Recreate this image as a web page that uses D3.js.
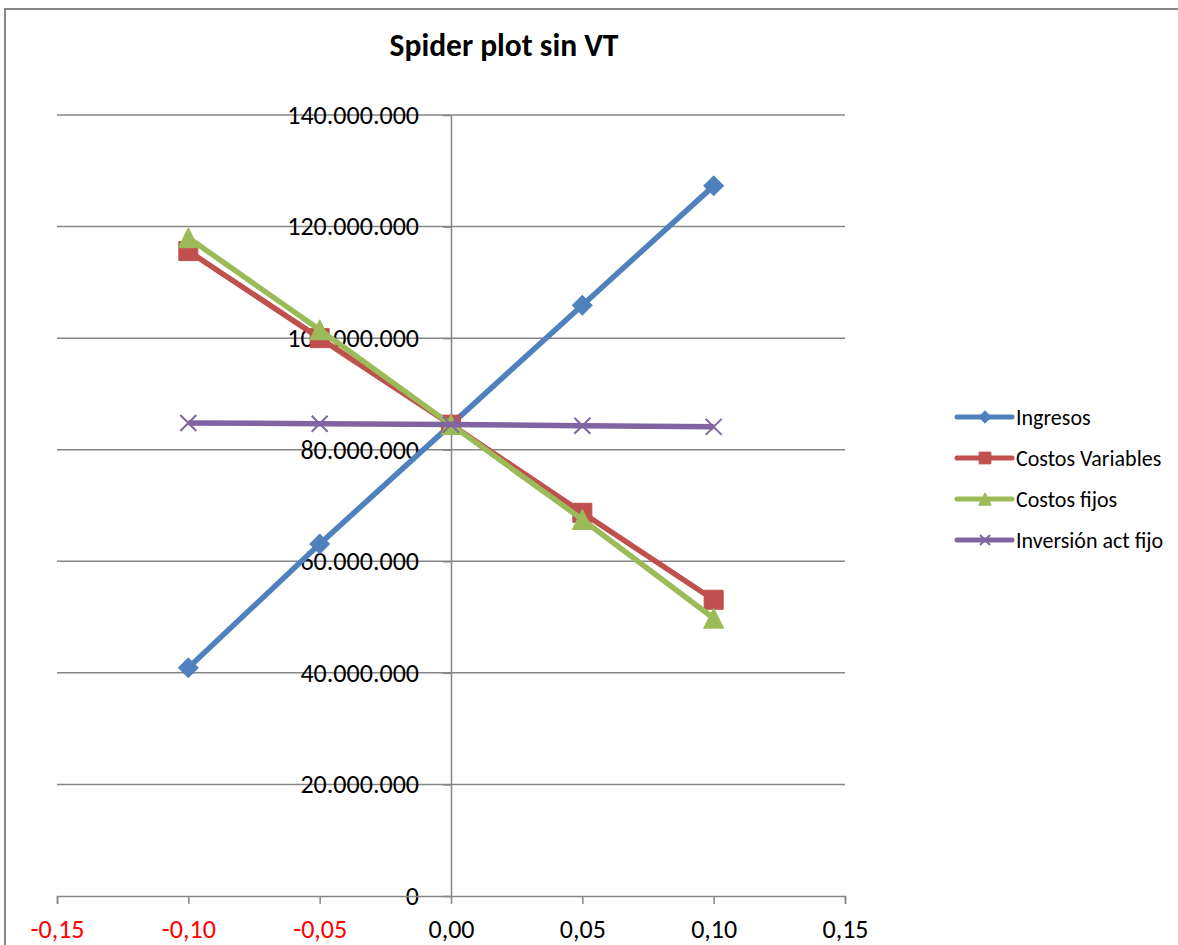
<!DOCTYPE html>
<html>
<head>
<meta charset="utf-8">
<script src="https://cdn.jsdelivr.net/npm/d3@7"></script>
<style>
  html, body { margin: 0; padding: 0; background: #fff; }
  svg { display: block; }
  text { font-family: Carlito, "Liberation Sans", Arial, sans-serif; }
</style>
</head>
<body>
<svg id="chart" width="1178" height="945"></svg>
<script>
// ---- Data ----
const xValues = [-0.10, -0.05, 0.00, 0.05, 0.10];
const seriesNames = ["Ingresos", "Costos Variables", "Costos fijos", "Inversión act fijo"];
const ingresos   = [40.9e6, 63.1e6, 84.5e6, 105.9e6, 127.3e6];
const costosVar  = [115.6e6, 100.0e6, 84.5e6, 68.7e6, 53.1e6];
const costosFijos= [118.0e6, 101.5e6, 84.5e6, 67.5e6, 49.8e6];
const inversion  = [84.8e6, 84.65e6, 84.5e6, 84.3e6, 84.1e6];
const xTicks = [-0.15, -0.10, -0.05, 0.00, 0.05, 0.10, 0.15];
const yTicks = [0, 20e6, 40e6, 60e6, 80e6, 100e6, 120e6, 140e6];
const titleText = "Spider plot sin VT";

const seriesValues = [ingresos, costosVar, costosFijos, inversion];
const colors = ["#4f81bd", "#c0504d", "#9bbb59", "#8064a2"];
const markers = ["diamond", "square", "triangle", "x"];

const svg = d3.select("#chart");

// outer border
svg.append("rect").attr("x", 5).attr("y", 9).attr("width", 1200).attr("height", 1000)
  .attr("fill", "none").attr("stroke", "#868686").attr("stroke-width", 2);

const x = d3.scaleLinear().domain([-0.15, 0.15]).range([57, 845]);
const y = d3.scaleLinear().domain([0, 140e6]).range([896, 115]);

const loc = d3.formatLocale({decimal: ",", thousands: ".", grouping: [3], currency: ["", ""], minus: "-"});
const fy = loc.format(",.0f");
const fx = loc.format(".2f");

// title
svg.append("text").attr("x", 504).attr("y", 56).attr("text-anchor", "middle")
  .style("font-size", "31.5px").style("font-weight", "bold").attr("fill", "#000").text(titleText);

// gridlines
svg.append("g").selectAll("line").data(yTicks.filter(d => d > 0)).join("line")
  .attr("x1", x(-0.15)).attr("x2", x(0.15)).attr("y1", d => y(d)).attr("y2", d => y(d))
  .attr("stroke", "#868686").attr("stroke-width", 1.5);

// y axis
const yAxis = svg.append("g").attr("transform", `translate(${x(0)},0)`)
  .call(d3.axisLeft(y).tickValues(yTicks).tickFormat(fy).tickSize(8).tickSizeOuter(0).tickPadding(24));
yAxis.selectAll("path, line").attr("stroke", "#868686").attr("stroke-width", 1.5);
yAxis.selectAll("text").style("font-size", "26px").attr("fill", "#000").attr("font-family", null);

// x axis
const xAxis = svg.append("g").attr("transform", `translate(0,${y(0)})`)
  .call(d3.axisBottom(x).tickValues(xTicks).tickFormat(fx).tickSize(8).tickSizeOuter(8).tickPadding(16));
xAxis.selectAll("path, line").attr("stroke", "#868686").attr("stroke-width", 1.5);
xAxis.selectAll("text").style("font-size", "26px").attr("font-family", null)
  .attr("fill", d => d < 0 ? "#ff0000" : "#000");

function markerPath(type, s) {
  if (type === "diamond") return `M0,${-s}L${s},0L0,${s}L${-s},0Z`;
  if (type === "square") return `M${-s},${-s}H${s}V${s}H${-s}Z`;
  if (type === "triangle") return `M0,${-s}L${s},${s}H${-s}Z`;
  return `M${-s},${-s}L${s},${s}M${-s},${s}L${s},${-s}`;
}
function drawMarker(g, type, color, s) {
  const p = g.append("path").attr("d", markerPath(type, s));
  if (type === "x") p.attr("fill", "none").attr("stroke", color).attr("stroke-width", 2);
  else p.attr("fill", color).attr("stroke", color).attr("stroke-width", 1);
}
const markerSize = {diamond: 10, square: 9.5, triangle: 10, x: 8};

const line = d3.line().x((d, i) => x(xValues[i])).y(d => y(d));
const plot = svg.append("g");
seriesValues.forEach((vals, si) => {
  plot.append("path").datum(vals).attr("d", line).attr("fill", "none")
    .attr("stroke", colors[si]).attr("stroke-width", 5.5).attr("stroke-linejoin", "round");
  vals.forEach((v, i) => {
    const g = plot.append("g").attr("transform", `translate(${x(xValues[i])},${y(v)})`);
    drawMarker(g, markers[si], colors[si], markerSize[markers[si]]);
  });
});

// legend
const legendY = [417, 458, 499, 540];
const legend = svg.append("g");
seriesNames.forEach((name, i) => {
  const g = legend.append("g").attr("transform", `translate(0,${legendY[i]})`);
  g.append("line").attr("x1", 957).attr("x2", 1012).attr("y1", 0).attr("y2", 0)
    .attr("stroke", colors[i]).attr("stroke-width", 5).attr("stroke-linecap", "round");
  const mg = g.append("g").attr("transform", "translate(985,0)");
  drawMarker(mg, markers[i], colors[i], markerSize[markers[i]] * 0.62);
  g.append("text").attr("x", 1016).attr("y", 7.5).style("font-size", "22px").attr("fill", "#000").text(name);
});
</script>
</body>
</html>
